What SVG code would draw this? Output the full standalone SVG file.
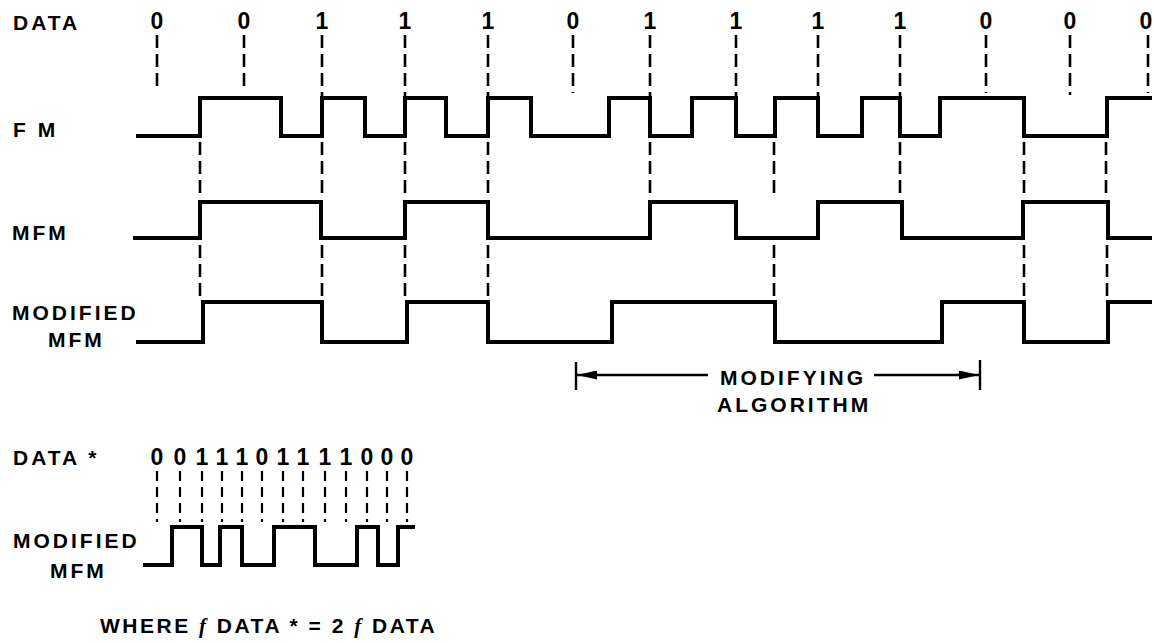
<svg xmlns="http://www.w3.org/2000/svg" width="1154" height="643" viewBox="0 0 1154 643">
<style>
  text { font-family: "Liberation Sans", Arial, sans-serif; font-weight: bold; font-size: 21px; fill: #000; letter-spacing: 3px; }
  .dig { text-anchor: middle; letter-spacing: 0; font-size: 23px; }
  .wave { fill: none; stroke: #000; stroke-width: 4; stroke-linejoin: miter; stroke-linecap: square; }
  .dash { stroke: #000; stroke-width: 2.6; stroke-dasharray: 13 6; fill: none; }
  .sdash { stroke: #000; stroke-width: 2.2; stroke-dasharray: 10 6; fill: none; }
  .arr { stroke: #000; stroke-width: 2.4; fill: none; }
  .it { font-family: "Liberation Serif", serif; font-style: italic; }
</style>
<defs>
  <marker id="ah" viewBox="0 0 10 10" refX="10" refY="5" markerWidth="20" markerHeight="9" markerUnits="userSpaceOnUse" orient="auto" preserveAspectRatio="none">
    <path d="M0,0 L10,5 L0,10 Z" fill="#000"/>
  </marker>
</defs>
<rect width="1154" height="643" fill="#fff"/>

<g id="data-row">
  <text x="13" y="30">DATA</text>
  <text class="dig" x="157" y="29">0</text>
  <text class="dig" x="244" y="29">0</text>
  <text class="dig" x="322" y="29">1</text>
  <text class="dig" x="405" y="29">1</text>
  <text class="dig" x="488" y="29">1</text>
  <text class="dig" x="573" y="29">0</text>
  <text class="dig" x="650" y="29">1</text>
  <text class="dig" x="736" y="29">1</text>
  <text class="dig" x="818" y="29">1</text>
  <text class="dig" x="900" y="29">1</text>
  <text class="dig" x="986" y="29">0</text>
  <text class="dig" x="1070" y="29">0</text>
  <text class="dig" x="1146" y="29">0</text>
</g>

<g id="fm">
  <text x="13" y="137">F M</text>
  <path class="wave" d="M138,136 H200 V98 H281 V136 H322 V98 H365 V136 H405 V98 H446 V136 H488 V98 H531 V136 H609 V98 H650 V136 H692 V98 H736 V136 H775 V98 H818 V136 H862 V98 H900 V136 H940 V98 H1024 V136 H1107 V98 H1150"/>
</g>

<g id="mfm">
  <text x="12" y="240">MFM</text>
  <path class="wave" d="M135,238 H200 V202 H321 V238 H405 V202 H488 V238 H650 V202 H736 V238 H818 V202 H902 V238 H1023 V202 H1108 V238 H1150"/>
</g>

<g id="modified-mfm">
  <text x="12" y="320">MODIFIED</text>
  <text x="48" y="347">MFM</text>
  <path class="wave" d="M138,342 H203 V302 H322 V342 H407 V302 H488 V342 H612 V302 H775 V342 H942 V302 H1024 V342 H1108 V302 H1150"/>
</g>

<g id="modifying-algorithm">
  <line class="arr" x1="576" y1="362" x2="576" y2="390"/>
  <line class="arr" x1="980" y1="360" x2="980" y2="390"/>
  <line class="arr" x1="708" y1="375" x2="577" y2="375" marker-end="url(#ah)"/>
  <line class="arr" x1="874" y1="375" x2="979" y2="375" marker-end="url(#ah)"/>
  <text x="720" y="385">MODIFYING</text>
  <text x="717" y="412">ALGORITHM</text>
</g>

<g id="data-star-row">
  <text x="13" y="465">DATA *</text>
  <text class="dig" x="157" y="465">0</text>
  <text class="dig" x="180" y="465">0</text>
  <text class="dig" x="202" y="465">1</text>
  <text class="dig" x="222" y="465">1</text>
  <text class="dig" x="242" y="465">1</text>
  <text class="dig" x="262" y="465">0</text>
  <text class="dig" x="283" y="465">1</text>
  <text class="dig" x="303" y="465">1</text>
  <text class="dig" x="325" y="465">1</text>
  <text class="dig" x="346" y="465">1</text>
  <text class="dig" x="367" y="465">0</text>
  <text class="dig" x="387" y="465">0</text>
  <text class="dig" x="407" y="465">0</text>
</g>

<g id="small-modified-mfm">
  <text x="13" y="548">MODIFIED</text>
  <text x="50" y="578">MFM</text>
  <path class="wave" d="M145,565 H172 V527 H202 V565 H220 V527 H242 V565 H274 V527 H315 V565 H357 V527 H378 V565 H398 V527 H413"/>
</g>

<g id="note">
  <text x="100" y="633" style="letter-spacing:2.5px">WHERE <tspan class="it">f</tspan> DATA * = 2 <tspan class="it">f</tspan> DATA</text>
</g>

<g id="connectors">
  <line class="dash" x1="157" y1="35" x2="157" y2="91"/>
  <line class="dash" x1="244" y1="35" x2="244" y2="91"/>
  <line class="dash" x1="322" y1="35" x2="322" y2="98"/>
  <line class="dash" x1="405" y1="35" x2="405" y2="98"/>
  <line class="dash" x1="488" y1="35" x2="488" y2="98"/>
  <line class="dash" x1="573" y1="35" x2="573" y2="93"/>
  <line class="dash" x1="650" y1="35" x2="650" y2="98"/>
  <line class="dash" x1="736" y1="35" x2="736" y2="98"/>
  <line class="dash" x1="818" y1="35" x2="818" y2="98"/>
  <line class="dash" x1="900" y1="35" x2="900" y2="98"/>
  <line class="dash" x1="986" y1="35" x2="986" y2="93"/>
  <line class="dash" x1="1070" y1="35" x2="1070" y2="95"/>
  <line class="dash" x1="1148" y1="35" x2="1148" y2="93"/>
  <line class="dash" x1="200" y1="142" x2="200" y2="198"/>
  <line class="dash" x1="322" y1="142" x2="322" y2="198"/>
  <line class="dash" x1="405" y1="142" x2="405" y2="194"/>
  <line class="dash" x1="488" y1="142" x2="488" y2="194"/>
  <line class="dash" x1="650" y1="142" x2="650" y2="194"/>
  <line class="dash" x1="774" y1="142" x2="774" y2="194"/>
  <line class="dash" x1="900" y1="142" x2="900" y2="194"/>
  <line class="dash" x1="1024" y1="142" x2="1024" y2="198"/>
  <line class="dash" x1="1106" y1="142" x2="1106" y2="194"/>
  <line class="dash" x1="200" y1="245" x2="200" y2="298"/>
  <line class="dash" x1="322" y1="245" x2="322" y2="298"/>
  <line class="dash" x1="405" y1="245" x2="405" y2="298"/>
  <line class="dash" x1="488" y1="245" x2="488" y2="298"/>
  <line class="dash" x1="774" y1="245" x2="774" y2="298"/>
  <line class="dash" x1="1024" y1="245" x2="1024" y2="298"/>
  <line class="dash" x1="1107" y1="245" x2="1107" y2="298"/>
  <line class="sdash" x1="157" y1="471" x2="157" y2="522"/>
  <line class="sdash" x1="180" y1="471" x2="180" y2="522"/>
  <line class="sdash" x1="202" y1="471" x2="202" y2="522"/>
  <line class="sdash" x1="222" y1="471" x2="222" y2="522"/>
  <line class="sdash" x1="242" y1="471" x2="242" y2="522"/>
  <line class="sdash" x1="262" y1="471" x2="262" y2="522"/>
  <line class="sdash" x1="283" y1="471" x2="283" y2="522"/>
  <line class="sdash" x1="303" y1="471" x2="303" y2="522"/>
  <line class="sdash" x1="325" y1="471" x2="325" y2="522"/>
  <line class="sdash" x1="346" y1="471" x2="346" y2="522"/>
  <line class="sdash" x1="367" y1="471" x2="367" y2="522"/>
  <line class="sdash" x1="387" y1="471" x2="387" y2="522"/>
  <line class="sdash" x1="407" y1="471" x2="407" y2="522"/>
</g>
</svg>
